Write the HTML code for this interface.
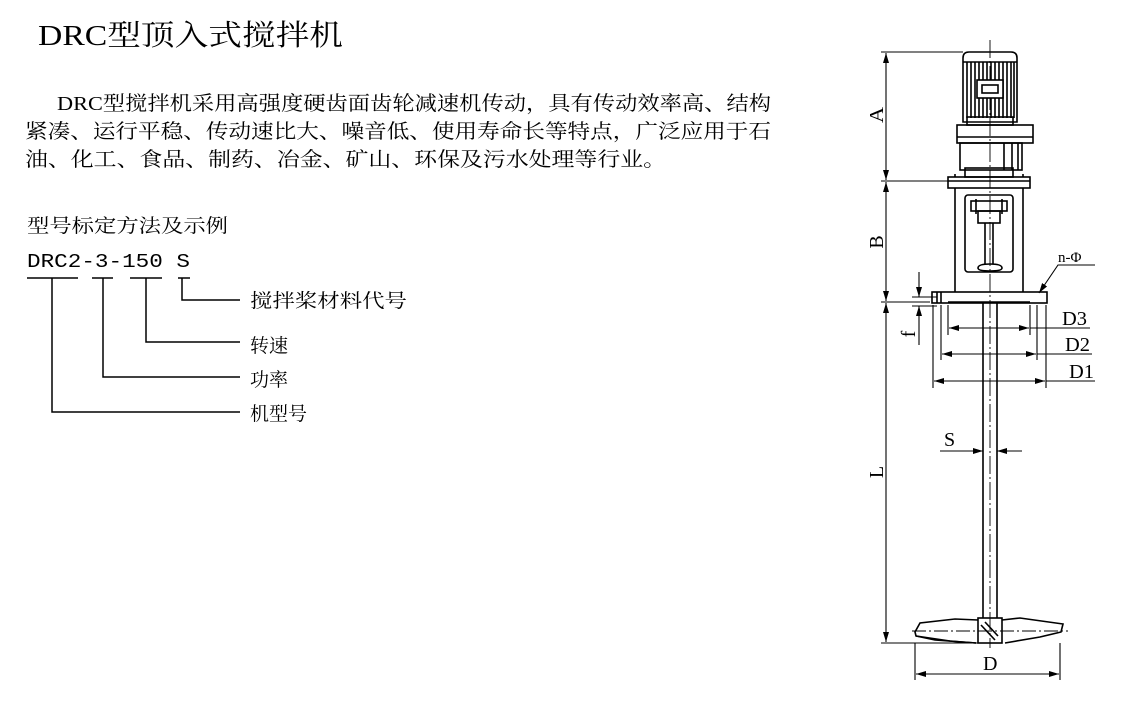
<!DOCTYPE html>
<html><head><meta charset="utf-8"><style>
html,body{margin:0;padding:0;background:#fff;}
svg{display:block;}
text{font-family:"Liberation Serif","Noto Serif CJK SC",serif;fill:#000;}
.mono{font-family:"Liberation Mono","Noto Serif CJK SC",monospace;}
</style></head><body>
<svg width="1128" height="720" viewBox="0 0 1128 720" xmlns="http://www.w3.org/2000/svg">
<defs>
<marker id="ar" viewBox="0 0 10 6" refX="10" refY="3" markerWidth="10" markerHeight="6" orient="auto-start-reverse" markerUnits="userSpaceOnUse">
<path d="M0,0 L10,3 L0,6 z" fill="#000"/></marker>
</defs>
<text x="38" y="45" font-size="29" textLength="305" lengthAdjust="spacingAndGlyphs">DRC型顶入式搅拌机</text>
<text x="57" y="110" font-size="20" textLength="714" lengthAdjust="spacingAndGlyphs">DRC型搅拌机采用高强度硬齿面齿轮减速机传动，具有传动效率高、结构</text>
<text x="25" y="138" font-size="20" textLength="746" lengthAdjust="spacingAndGlyphs">紧凑、运行平稳、传动速比大、噪音低、使用寿命长等特点，广泛应用于石</text>
<text x="25" y="166" font-size="20" textLength="641" lengthAdjust="spacingAndGlyphs">油、化工、食品、制药、冶金、矿山、环保及污水处理等行业。</text>
<text x="27" y="232" font-size="19" textLength="201" lengthAdjust="spacingAndGlyphs">型号标定方法及示例</text>
<text class="mono" x="27" y="267" font-size="19" textLength="163" lengthAdjust="spacingAndGlyphs">DRC2-3-150 S</text>
<g stroke="#000" stroke-width="1.5" fill="none">
<path d="M27,278H78M92,278H113M130,278H162M178,278H190"/>
<path d="M182,278V300H240M146,278V342H240M103,278V377H240M52,278V412H240"/>
</g>
<text x="250" y="307" font-size="19" textLength="157" lengthAdjust="spacingAndGlyphs">搅拌桨材料代号</text>
<text x="250" y="352" font-size="19">转速</text>
<text x="250" y="386" font-size="19">功率</text>
<text x="250" y="420" font-size="19">机型号</text>

<g stroke="#000" stroke-width="1.6" fill="none">
<path d="M990,40V648" stroke-dasharray="18,3,2,3" stroke-width="0.9"/>
<path d="M963,122V58Q963,52 969,52H1011Q1017,52 1017,58V122Z"/>
<path d="M963,62H1017"/>
<path d="M967,62V118M971,62V118M975,62V118M979,62V118M983,62V80M987,62V80M991,62V80M995,62V80M999,62V80M983,98V118M987,98V118M991,98V118M995,98V118M999,98V118M1003,62V118M1007,62V118M1011,62V118M1014,62V118"/>
<rect x="977" y="80" width="26" height="18" fill="#fff"/>
<rect x="982" y="85" width="16" height="8"/>
<rect x="967" y="117" width="46" height="8"/>
<rect x="957" y="125" width="76" height="18"/>
<path d="M957,137H1033"/>
<rect x="960" y="143" width="62" height="27"/>
<path d="M1004,143V170M1012,143V170M1018,143V170"/>
<rect x="965" y="168" width="48" height="9"/>
<rect x="948" y="177" width="82" height="11"/>
<path d="M948,181H1030"/>
<path d="M955,174V177M1023,174V177"/>
<path d="M955,188V292M1023,188V292"/>
<rect x="965" y="195" width="48" height="77" rx="3"/>
<rect x="971" y="201" width="36" height="10"/>
<path d="M976,199V214M1002,199V214"/>
<rect x="978" y="211" width="22" height="12"/>
<path d="M985,223V264M993,223V264"/>
<path d="M978,268Q978,264 990,264Q1002,264 1002,268Q1002,271 990,271Q978,271 978,268Z"/>
<rect x="932" y="292" width="115" height="11"/>
<path d="M948,302H1030"/>
<path d="M937,292V303M941,292V303"/>
<path d="M983,303V618M997,303V618"/>
<rect x="978" y="618" width="24" height="25"/>
<path d="M981,625L995,640M985,622L998,636"/>
<path d="M978,620L955,619L920,623L915,632L916,636L935,640L976,643"/>
<path d="M916,636L950,641L976,643"/>
<path d="M1002,620L1020,618L1063,624L1061,632L1040,637L1005,643"/>
<path d="M912,631H1068" stroke-dasharray="14,3,2,3" stroke-width="0.9"/>
</g>
<g stroke="#000" stroke-width="1.1" fill="none">
<path d="M881,52H963M881,181H948M881,302H930M881,643H978"/>
<path d="M886,53V180" marker-start="url(#ar)" marker-end="url(#ar)"/>
<path d="M886,182V301" marker-start="url(#ar)" marker-end="url(#ar)"/>
<path d="M886,303V642" marker-start="url(#ar)" marker-end="url(#ar)"/>
<path d="M919,272V297" marker-end="url(#ar)"/>
<path d="M919,345V306" marker-end="url(#ar)"/>
<path d="M912,297H937M912,306H937"/>
<path d="M948,305V335M1030,305V335M941,305V360M1037,305V360M933,305V388M1046,305V388"/>
<path d="M949,328H1029" marker-start="url(#ar)" marker-end="url(#ar)"/>
<path d="M1030,328H1090"/>
<path d="M942,354H1036" marker-start="url(#ar)" marker-end="url(#ar)"/>
<path d="M1037,354H1092"/>
<path d="M934,381H1045" marker-start="url(#ar)" marker-end="url(#ar)"/>
<path d="M1046,381H1095"/>
<path d="M1095,265H1058L1039,293" marker-end="url(#ar)"/>
<path d="M940,451H983" marker-end="url(#ar)"/>
<path d="M1022,451H997" marker-end="url(#ar)"/>
<path d="M915,643V680M1060,643V680"/>
<path d="M916,674H1059" marker-start="url(#ar)" marker-end="url(#ar)"/>
</g>
<text x="883" y="115" font-size="20" transform="rotate(-90 883 115)" text-anchor="middle" textLength="16" lengthAdjust="spacingAndGlyphs">A</text>
<text x="883" y="242" font-size="20" transform="rotate(-90 883 242)" text-anchor="middle">B</text>
<text x="883" y="472" font-size="20" transform="rotate(-90 883 472)" text-anchor="middle">L</text>
<text x="915" y="334" font-size="20" transform="rotate(-90 915 334)" text-anchor="middle">f</text>
<text x="1062" y="325" font-size="20" textLength="25" lengthAdjust="spacingAndGlyphs">D3</text>
<text x="1065" y="351" font-size="20" textLength="25" lengthAdjust="spacingAndGlyphs">D2</text>
<text x="1069" y="378" font-size="20" textLength="25" lengthAdjust="spacingAndGlyphs">D1</text>
<text x="1058" y="262" font-size="15">n-Φ</text>
<text x="944" y="446" font-size="20">S</text>
<text x="983" y="670" font-size="20">D</text>
</svg>
</body></html>
